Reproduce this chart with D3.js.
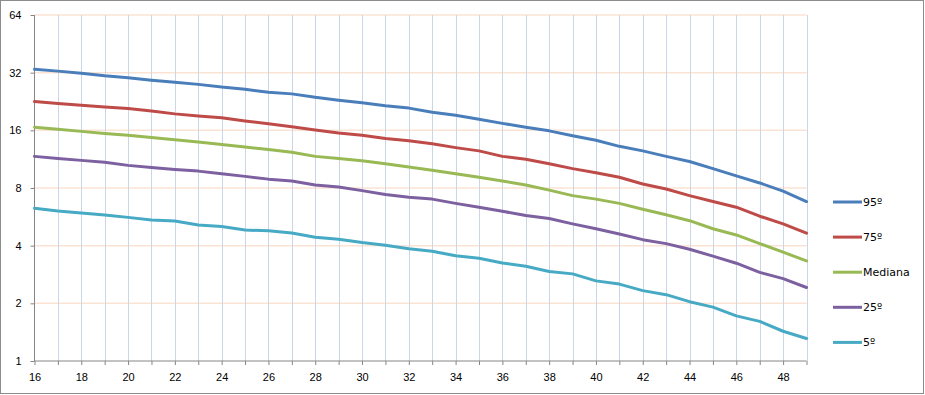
<!DOCTYPE html>
<html>
<head>
<meta charset="utf-8">
<script src="https://cdn.jsdelivr.net/npm/d3@7"></script>
<style>
  html, body { margin: 0; padding: 0; background: #fff; }
  svg { display: block; font-family: "DejaVu Sans", Verdana, sans-serif; }
</style>
</head>
<body>
<svg id="chart"></svg>
<script>
// ages on the x axis
let ages = d3.range(16, 50);

// percentile curves
let p95 = [33.3,32.6,31.8,30.8,30.1,29.2,28.5,27.8,26.9,26.2,25.3,24.8,23.8,23.0,22.3,21.5,20.9,19.9,19.2,18.3,17.4,16.6,15.9,15.0,14.2,13.2,12.5,11.7,11.0,10.1,9.25,8.5,7.7,6.8];
let p75 = [22.6,22.1,21.6,21.2,20.8,20.2,19.5,19.0,18.6,17.9,17.3,16.7,16.05,15.5,15.1,14.5,14.1,13.6,13.0,12.5,11.7,11.3,10.7,10.1,9.6,9.1,8.4,7.9,7.3,6.8,6.35,5.7,5.2,4.65];
let p50 = [16.6,16.2,15.8,15.4,15.1,14.7,14.3,13.9,13.5,13.1,12.7,12.3,11.7,11.4,11.1,10.7,10.3,9.9,9.5,9.1,8.7,8.3,7.8,7.3,7.0,6.65,6.2,5.8,5.4,4.9,4.55,4.1,3.7,3.33];
let p25 = [11.7,11.4,11.15,10.9,10.5,10.25,10.0,9.8,9.5,9.2,8.9,8.7,8.3,8.1,7.75,7.4,7.15,7.0,6.65,6.35,6.05,5.75,5.55,5.2,4.9,4.6,4.3,4.1,3.83,3.53,3.24,2.9,2.69,2.42];
let p5  = [6.28,6.07,5.93,5.78,5.62,5.45,5.38,5.13,5.03,4.83,4.78,4.66,4.43,4.32,4.15,4.02,3.85,3.74,3.54,3.44,3.25,3.12,2.93,2.85,2.62,2.52,2.33,2.22,2.04,1.91,1.72,1.61,1.43,1.31];

let seriesNames = ["95º","75º","Mediana","25º","5º"];
let seriesColors = ["#4a7ebb","#be4b48","#98b954","#7d60a0","#46aac5"];
let yTicks = [1,2,4,8,16,32,64];

let width = 925, height = 395,
    plotLeft = 34.5, plotRight = 806.5, plotTop = 15, plotBottom = 361;

let svg = d3.select("#chart").attr("width", width).attr("height", height);

svg.append("rect")
    .attr("x", 0.5).attr("y", 0.5)
    .attr("width", 923).attr("height", 393)
    .attr("fill", "#fff").attr("stroke", "#8c8c8c");

let xScale = d3.scaleLinear().domain([16, 49]).range([plotLeft, plotRight]),
    yScale = d3.scaleLog().base(2).domain([1, 64]).range([plotBottom, plotTop]);

// gridlines
svg.append("g").selectAll("line")
    .data(yTicks.slice(1))
    .enter().append("line")
    .attr("x1", plotLeft).attr("x2", plotRight)
    .attr("y1", d => yScale(d)).attr("y2", d => yScale(d))
    .attr("stroke", "#fbe3d4").attr("stroke-width", 1.5);

svg.append("g").selectAll("line")
    .data(ages.slice(1))
    .enter().append("line")
    .attr("x1", d => Math.round(xScale(d)) + 0.5).attr("x2", d => Math.round(xScale(d)) + 0.5)
    .attr("y1", plotTop).attr("y2", plotBottom)
    .attr("stroke", "#c9d6e8").attr("stroke-width", 1);

// axes
let xAxis = d3.axisBottom(xScale)
    .tickValues(ages)
    .tickSize(4)
    .tickFormat(d => d % 2 == 0 ? d : "");
let yAxis = d3.axisLeft(yScale)
    .tickValues(yTicks)
    .tickSize(4)
    .tickPadding(9)
    .tickFormat(d3.format("d"));

let gx = svg.append("g")
    .attr("transform", "translate(0," + plotBottom + ")")
    .call(xAxis);
let gy = svg.append("g")
    .attr("transform", "translate(" + plotLeft + ",0)")
    .call(yAxis);

[gx, gy].forEach(g => {
    g.select(".domain").attr("stroke", "#868686");
    g.selectAll(".tick line").attr("stroke", "#868686");
    g.selectAll("text").attr("fill", "#000").style("font-size", "11px");
});
gx.selectAll("text").attr("dy", "0.71em").attr("y", 12);
gy.select(".domain").attr("d", "M0," + plotTop + "V" + plotBottom);
gx.select(".domain").attr("d", "M" + plotLeft + ",0H" + plotRight);

// lines
let allSeries = [p95, p75, p50, p25, p5];
let line = d3.line()
    .x((d, i) => xScale(ages[i]))
    .y(d => yScale(d));

svg.append("g").selectAll("path")
    .data(allSeries)
    .enter().append("path")
    .attr("d", line)
    .attr("fill", "none")
    .attr("stroke", (d, i) => seriesColors[i])
    .attr("stroke-width", 3)
    .attr("stroke-linejoin", "round")
    .attr("stroke-linecap", "round");

// legend
let legend = svg.append("g").attr("transform", "translate(833,202)");
let items = legend.selectAll("g")
    .data(seriesNames)
    .enter().append("g")
    .attr("transform", (d, i) => "translate(0," + (i * 35.1) + ")");
items.append("line")
    .attr("x1", 0).attr("x2", 29)
    .attr("stroke", (d, i) => seriesColors[i])
    .attr("stroke-width", 3);
items.append("text")
    .attr("x", 30).attr("dy", "0.35em")
    .style("font-size", "11px")
    .attr("fill", "#000")
    .text(d => d);
</script>
</body>
</html>
